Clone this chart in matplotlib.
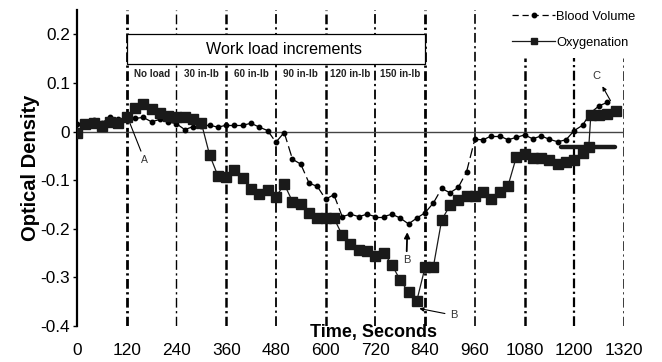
import matplotlib
matplotlib.use("Agg")
import matplotlib.pyplot as plt
from matplotlib.patches import Rectangle
from matplotlib.collections import LineCollection
from matplotlib.lines import Line2D

plt.rcParams['font.family'] = ['Liberation Sans', 'DejaVu Sans']
plt.rcParams['axes.unicode_minus'] = False

# time axis (seconds)
oxy_t = [0, 20, 40, 60, 80, 100, 120, 140, 160, 180, 200, 220, 240, 260, 280, 300,
         320, 340, 360, 380, 400, 420, 440, 460, 480, 500, 520, 540, 560, 580, 600,
         620, 640, 660, 680, 700, 720, 740, 760, 780, 800, 820, 840, 860, 880, 900,
         920, 940, 960, 980, 1000, 1020, 1040, 1060, 1080, 1100, 1120, 1140, 1160,
         1180, 1200, 1220, 1235, 1240, 1260, 1280, 1300]
oxy_v = [-0.003, 0.015, 0.017, 0.011, 0.020, 0.018, 0.030, 0.049, 0.056, 0.046, 0.039,
         0.032, 0.029, 0.029, 0.025, 0.018, -0.048, -0.091, -0.094, -0.079, -0.095,
         -0.118, -0.129, -0.120, -0.135, -0.108, -0.144, -0.150, -0.167, -0.178, -0.178,
         -0.178, -0.213, -0.232, -0.243, -0.245, -0.257, -0.249, -0.274, -0.306, -0.330,
         -0.348, -0.279, -0.278, -0.182, -0.152, -0.141, -0.132, -0.132, -0.124, -0.139,
         -0.125, -0.112, -0.053, -0.047, -0.054, -0.054, -0.059, -0.067, -0.063, -0.059,
         -0.045, -0.032, 0.035, 0.035, 0.037, 0.042]

bv_t = [0, 20, 40, 60, 80, 100, 120, 140, 160, 180, 200, 220, 240, 260, 280, 300,
        320, 340, 360, 380, 400, 420, 440, 460, 480, 500, 520, 540, 560, 580, 600,
        620, 640, 660, 680, 700, 720, 740, 760, 780, 800, 820, 840, 860, 880, 900,
        920, 940, 960, 980, 1000, 1020, 1040, 1060, 1080, 1100, 1120, 1140, 1160,
        1180, 1200, 1220, 1240, 1260, 1280]
bv_v = [0.015, 0.018, 0.024, 0.018, 0.029, 0.025, 0.027, 0.027, 0.029, 0.020, 0.025,
        0.020, 0.016, 0.004, 0.010, 0.011, 0.013, 0.009, 0.013, 0.013, 0.013, 0.017,
        0.009, 0.002, -0.022, -0.002, -0.057, -0.067, -0.106, -0.113, -0.139, -0.130,
        -0.175, -0.170, -0.175, -0.170, -0.175, -0.175, -0.170, -0.178, -0.190, -0.178,
        -0.167, -0.147, -0.117, -0.126, -0.115, -0.083, -0.016, -0.017, -0.009, -0.009,
        -0.017, -0.012, -0.007, -0.015, -0.009, -0.016, -0.021, -0.017, 0.002, 0.013,
        0.039, 0.053, 0.060]

# thick baseline bar near the end
bar_t = [1168, 1299]
bar_v = [-0.032, -0.032]

# workload divisions
div_t = [120, 240, 360, 480, 600, 720, 840, 960, 1080, 1200, 1320]
div_top = [0.25, 0.25, 0.25, 0.25, 0.25, 0.25, 0.25, 0.25, 0.151, 0.151, 0.151]
div_lw = [2.0, 1.0, 1.8, 1.3, 1.8, 1.3, 2.0, 1.2, 1.8, 1.6, 1.8]
load_labels = ['No load', '30 in-lb', '60 in-lb', '90 in-lb', '120 in-lb', '150 in-lb']

xticks = list(range(0, 1321, 120))
yticks = [0.2, 0.1, 0, -0.1, -0.2, -0.3, -0.4]
ytick_labels = ['0.2', '0.1', '0', '-0.1', '-0.2', '-0.3', '-0.4']

fig = plt.figure(figsize=(6.62, 3.62), dpi=100)
ax = fig.add_axes([0.1163, 0.0994, 0.8263, 0.873])

for t, top, lw in zip(div_t, div_top, div_lw):
    ax.plot([t, t], [-0.4, top], color='black', lw=lw,
            dashes=(7.0 / lw, 2.5 / lw, 1.6 / lw, 2.5 / lw), zorder=1)

ax.axhline(0, color='#444444', lw=1.0, zorder=2)

# workload box
ax.add_patch(Rectangle((120, 0.138), 720, 0.062, facecolor='white',
                       edgecolor='black', lw=0.9, zorder=3))
ax.text(500, 0.169, 'Work load increments', ha='center', va='center',
        fontsize=11.6, zorder=4)
for i, lab in enumerate(load_labels):
    ax.text(180 + 120 * i, 0.118, lab, ha='center', va='center',
            fontsize=7.1, fontweight='bold', color='#222222')

# blood volume: dashed segments, each restarting its dash pattern
segs = [[(bv_t[i], bv_v[i]), (bv_t[i + 1], bv_v[i + 1])] for i in range(len(bv_t) - 1)]
ax.add_collection(LineCollection(segs, colors='black', linewidths=0.9,
                                 linestyles=[(0, (8, 3.5))], zorder=5))
ax.plot(bv_t, bv_v, linestyle='none', color='black', marker='o', markersize=3.2, zorder=5)

ax.plot(oxy_t, oxy_v, color='#1a1a1a', lw=0.9, marker='s', markersize=6.5, zorder=5)
ax.plot(bar_t, bar_v, color='#1a1a1a', lw=3.2, solid_capstyle='round', zorder=6)

# annotations
ax.annotate('A', xy=(124, 0.025), xytext=(163, -0.059), fontsize=7.5,
            ha='center', va='center', color='#333333',
            arrowprops=dict(arrowstyle='-', lw=0.8, color='black', shrinkA=1, shrinkB=0))
ax.annotate('B', xy=(797, -0.207), xytext=(795, -0.265), fontsize=8,
            ha='center', va='center', color='#333333',
            arrowprops=dict(arrowstyle='-|>', lw=1.3, color='black',
                            mutation_scale=8, shrinkA=1, shrinkB=0))
ax.annotate('B', xy=(826, -0.364), xytext=(910, -0.378), fontsize=8,
            ha='center', va='center', color='#333333',
            arrowprops=dict(arrowstyle='-|>', lw=0.8, color='black',
                            mutation_scale=6, shrinkA=2, shrinkB=0))
ax.annotate('C', xy=(1289, 0.061), xytext=(1254, 0.114), fontsize=8,
            ha='center', va='center', color='#333333',
            arrowprops=dict(arrowstyle='<|-', lw=0.8, color='black',
                            mutation_scale=6, shrinkA=2, shrinkB=1))

ax.set_xlim(0, 1320)
ax.set_ylim(-0.4, 0.25)
ax.set_xticks(xticks)
ax.set_xticklabels([str(x) for x in xticks])
ax.set_yticks(yticks)
ax.set_yticklabels(ytick_labels)
ax.tick_params(axis='x', length=0, pad=12, labelsize=12.4)
ax.tick_params(axis='y', length=3, width=1, pad=2, labelsize=12.4)
for s in ['top', 'right', 'bottom']:
    ax.spines[s].set_visible(False)
ax.spines['left'].set_linewidth(1.6)
ax.spines['left'].set_bounds(-0.4, 0.25)

ax.set_ylabel('Optical Density', fontsize=14.5, fontweight='bold', labelpad=0)
ax.text(715, -0.414, 'Time, Seconds', ha='center', va='center', fontsize=13,
        fontweight='bold', clip_on=False)

handles = [Line2D([], [], color='black', lw=0.9, dashes=(5, 3), marker='o', markersize=3.2),
           Line2D([], [], color='#1a1a1a', lw=0.9, marker='s', markersize=5)]
ax.legend(handles, ['Blood Volume', 'Oxygenation'], loc='upper right',
          bbox_to_anchor=(0.968, 0.985), bbox_transform=fig.transFigure,
          frameon=False, fontsize=9.3, handlelength=3.3, labelspacing=1.1,
          handletextpad=0.1, borderaxespad=0.0)

fig.savefig('out.png', dpi=100)
